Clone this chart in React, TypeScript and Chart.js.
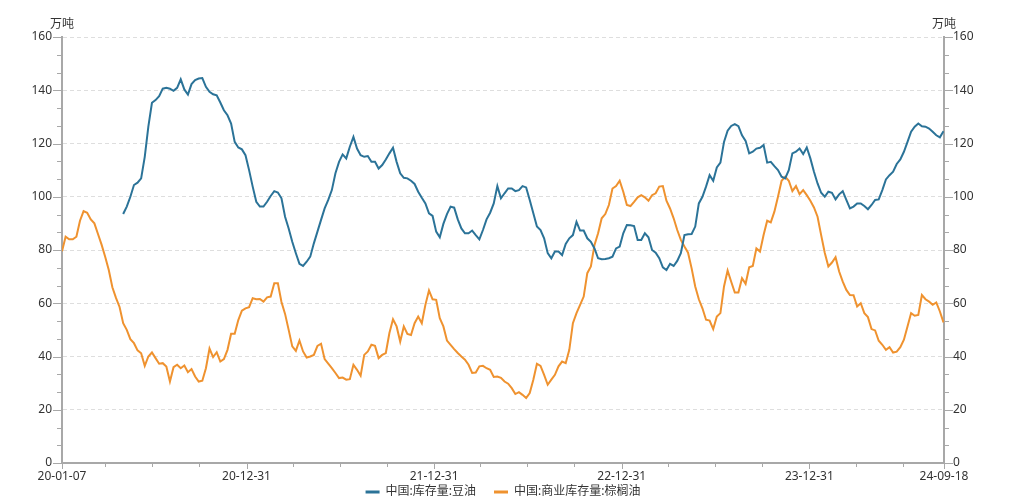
import React, { useEffect, useRef } from "react";
import { Chart, registerables } from "chart.js";

Chart.register(...registerables);

// ---------- data ----------
const axisStart = "2020-01-07";
const axisEnd = "2024-09-18";

// quarterly tick marks on the time axis
const xTickDates = [
  "2020-01-07", "2020-03-31", "2020-06-30", "2020-09-30", "2020-12-31",
  "2021-03-31", "2021-06-30", "2021-09-30", "2021-12-31",
  "2022-03-31", "2022-06-30", "2022-09-30", "2022-12-31",
  "2023-03-31", "2023-06-30", "2023-09-30", "2023-12-31",
  "2024-03-31", "2024-06-30", "2024-09-18",
];
// ticks that carry a label
const xLabelDates = ["2020-01-07", "2020-12-31", "2021-12-31", "2022-12-31", "2023-12-31", "2024-09-18"];

const yTickLabels = [0, 20, 40, 60, 80, 100, 120, 140, 160];
const yMinorDivisions = 3;

const unitLabel = "万吨";
const seriesNames = ["中国:库存量:豆油", "中国:商业库存量:棕榈油"];

// weekly series (one value per week from the start date)
const soyStart = "2020-05-05";
const soyValues = [
  93.5, 96.3, 100, 104.4, 105.3, 106.9, 115, 126.3, 135.3, 136.3, 137.8, 140.6, 140.9, 140.6, 139.8, 140.9,
  144.1, 140.3, 138.4, 142.3, 143.8, 144.4, 144.6, 141.3, 139.4, 138.5, 138.1, 135.4, 132.5, 130.6, 127.5, 120.6,
  118.5, 117.8, 115.6, 110, 103.8, 98.1, 96.3, 96.3, 98.1, 100.3, 102.1, 101.6, 99.4, 92.5, 88.1, 83.1,
  78.8, 74.8, 74, 75.6, 77.5, 82.5, 86.9, 91.3, 95.6, 98.8, 102.5, 108.8, 113.1, 115.9, 114.4, 118.8,
  122.5, 118.1, 115.6, 115, 115.3, 113.1, 113.1, 110.6, 111.9, 114, 116.3, 118.4, 113.1, 108.8, 107.1, 106.9,
  106, 104.8, 101.9, 99.6, 97.5, 93.8, 92.8, 86.9, 84.8, 89.8, 93.5, 96.3, 95.9, 91.5, 88.1, 86.3,
  86.3, 87.3, 85.6, 84, 87.5, 91.5, 94, 97.5, 104, 99.4, 101.3, 103.1, 103.1, 102.1, 102.5, 104,
  103.5, 98.8, 93.8, 88.8, 87.5, 84.4, 78.8, 76.9, 79.4, 79.4, 78.1, 82.3, 84.4, 85.6, 90.6, 87.3,
  87.3, 84.4, 83.1, 80.6, 76.9, 76.5, 76.6, 76.9, 77.5, 80.6, 81.3, 86.3, 89.4, 89.3, 89, 83.8,
  83.8, 86.3, 84.8, 80, 79, 76.9, 73.5, 72.5, 74.8, 74, 75.9, 78.8, 85.6, 85.9, 86, 88.8,
  97.5, 100, 103.8, 108.1, 106, 111, 112.8, 120.6, 124.8, 126.6, 127.3, 126.5, 123.1, 121, 116.3, 116.9,
  118.1, 118.4, 119.4, 112.8, 113.1, 111.5, 110, 107.5, 106.9, 110, 116.3, 116.9, 118.1, 116, 118.5, 114.4,
  109.4, 105, 101.5, 100, 101.9, 101.5, 99, 100.9, 102.1, 98.8, 95.6, 96.3, 97.5, 97.5, 96.5, 95.3,
  96.9, 98.8, 99, 102.5, 106.5, 108.1, 109.4, 112.3, 114, 116.9, 120.6, 124.4, 126.3, 127.5, 126.5, 126.3,
  125.6, 124.4, 123.1, 122.3, 124.6,
];

const palmStart = "2020-01-07";
const palmValues = [
  79.5, 85, 84, 84, 85, 91, 94.6, 94, 91.5, 90, 86, 82, 77.5, 72.5, 66, 62,
  58.6, 52.5, 50, 46.5, 45, 42.3, 41.2, 36.5, 40, 41.5, 39.4, 37.3, 37.5, 36.2, 30.6, 36,
  36.9, 35.6, 36.6, 34.1, 35.3, 32.5, 30.6, 30.9, 35.6, 43, 39.8, 41.6, 38.1, 39, 42.5, 48.5,
  48.5, 53.7, 57.2, 58.1, 58.5, 61.9, 61.5, 61.6, 60.6, 62.2, 62.5, 67.5, 67.5, 60.5, 56, 50,
  43.8, 42.1, 46, 41.9, 39.6, 40, 40.6, 44, 44.8, 39, 37.3, 35.6, 33.8, 31.9, 32.1, 31.3,
  31.5, 36.9, 35, 32.8, 40.6, 41.9, 44.4, 44, 39.4, 40.6, 41.3, 48.8, 54, 51.3, 45.6, 51.3,
  48.5, 48.1, 52.5, 55, 52.5, 59.4, 64.8, 61.5, 61.3, 54.4, 51.3, 46, 44.4, 42.8, 41.3, 40,
  38.8, 36.9, 33.8, 34, 36.3, 36.5, 35.6, 35, 32.3, 32.5, 32, 30.6, 29.8, 28.1, 25.9, 26.6,
  25.6, 24.4, 26.3, 31.3, 37.3, 36.5, 33.1, 29.4, 31.3, 33.1, 36.3, 38.1, 37.5, 42.5, 52.5, 56.3,
  59.4, 62.5, 71.3, 73.8, 81.9, 86.3, 91.9, 93.5, 96.9, 103.1, 104, 106, 101.9, 96.9, 96.5, 98.1,
  99.8, 100.6, 99.8, 98.5, 100.6, 101.3, 103.8, 104, 98.5, 95.6, 91.9, 87.5, 83.8, 81.3, 79, 73.1,
  66.3, 61.5, 58.1, 53.8, 53.5, 50.3, 55, 56.3, 66.3, 72.3, 68.1, 64, 64, 69.4, 67.3, 73.5,
  74, 80.6, 79.4, 85.6, 91, 90.4, 94.4, 100, 106, 107.5, 106, 102.1, 104, 101, 102.5, 100.6,
  98.5, 96, 92.5, 85.6, 79, 73.8, 75.3, 77.3, 71.9, 68.1, 65, 63.1, 63, 58.8, 60, 56.3,
  54.8, 50.3, 49.8, 45.9, 44.4, 42.5, 43.5, 41.5, 41.8, 43.5, 46.3, 51.3, 56.3, 55.3, 55.6, 63.1,
  61.5, 60.6, 59.4, 60.3, 56.9, 52.8,
];

// ---------- styling ----------
const SOY_COLOR = "#2b7398";
const PALM_COLOR = "#ef922f";
const AXIS_COLOR = "#a8a8a8";
const GRID_COLOR = "#dedede";
const TEXT_COLOR = "#333333";
const FONT_FAMILY = "'Noto Sans', 'Noto Sans CJK SC', sans-serif";
const LEGEND_PADDING = 18;
const LEGEND_TEXT_Y = 492;

const DAY = 86400000;
const dayOf = (s: string) => {
  const [y, m, d] = s.split("-").map(Number);
  const [y0, m0, d0] = axisStart.split("-").map(Number);
  return Math.round((Date.UTC(y, m - 1, d) - Date.UTC(y0, m0 - 1, d0)) / DAY);
};
const xLabelDays = new Map(xLabelDates.map((d) => [dayOf(d), d.slice(2)]));
const yTickValues: number[] = [];
for (let i = 0; i <= (yTickLabels.length - 1) * yMinorDivisions; i++) {
  yTickValues.push((i * (yTickLabels[1] - yTickLabels[0])) / yMinorDivisions);
}
const isMajorY = (v: number) => yTickLabels.some((t) => Math.abs(t - v) < 1e-6);

const toPoints = (start: string, values: number[]) => {
  const s = dayOf(start);
  return values.map((v, i) => ({ x: s + 7 * i, y: v }));
};

// places the legend row at the wanted baseline, independent of its layout box
const legendPlacePlugin = {
  id: "legendPlace",
  afterLayout(chart: any) {
    const l = chart.legend;
    if (!l) return;
    l.top = LEGEND_TEXT_Y - LEGEND_PADDING - 6;
    l.bottom = chart.height;
    l.height = l.bottom - l.top;
  },
};

const tickMarksPlugin = {
  id: "tickMarks",
  afterDraw(chart: any) {
    const { ctx } = chart;
    const xs = chart.scales.x;
    const yl = chart.scales.y;
    const yr = chart.scales.y2;
    ctx.save();
    ctx.strokeStyle = AXIS_COLOR;
    ctx.lineWidth = 1;
    ctx.beginPath();
    xs.ticks.forEach((t: any) => {
      const px = Math.round(xs.getPixelForValue(t.value)) + 0.5;
      const len = xLabelDays.has(t.value) ? 6 : 4;
      ctx.moveTo(px, xs.top);
      ctx.lineTo(px, xs.top + len);
    });
    yl.ticks.forEach((t: any) => {
      const py = Math.round(yl.getPixelForValue(t.value)) + 0.5;
      const len = isMajorY(t.value) ? 9 : 5;
      ctx.moveTo(yl.right - len, py);
      ctx.lineTo(yl.right, py);
    });
    yr.ticks.forEach((t: any) => {
      const py = Math.round(yr.getPixelForValue(t.value)) + 0.5;
      const len = isMajorY(t.value) ? 9 : 5;
      ctx.moveTo(yr.left, py);
      ctx.lineTo(yr.left + len, py);
    });
    ctx.stroke();
    // unit labels above both value axes
    ctx.fillStyle = TEXT_COLOR;
    ctx.font = `12px ${FONT_FAMILY}`;
    ctx.textAlign = "center";
    ctx.textBaseline = "middle";
    const uy = chart.chartArea.top - 12;
    ctx.fillText(unitLabel, yl.right, uy);
    ctx.fillText(unitLabel, yr.left, uy);
    ctx.restore();
  },
};

export default function App() {
  const canvasRef = useRef<HTMLCanvasElement | null>(null);

  useEffect(() => {
    document.body.style.margin = "0";
    const canvas = canvasRef.current;
    if (!canvas) return;

    Chart.defaults.font.family = FONT_FAMILY;
    Chart.defaults.font.size = 12;
    Chart.defaults.color = TEXT_COLOR;

    const yAxisCommon = {
      type: "linear" as const,
      min: yTickLabels[0],
      max: yTickLabels[yTickLabels.length - 1],
      afterBuildTicks: (axis: any) => {
        axis.ticks = yTickValues.map((v) => ({ value: v }));
      },
      ticks: {
        autoSkip: false,
        color: TEXT_COLOR,
        font: { size: 12 },
        callback: (v: any) => (isMajorY(Number(v)) ? String(Math.round(Number(v))) : ""),
      },
      border: { display: true, color: AXIS_COLOR, width: 2 },
    };

    const chart = new Chart(canvas, {
      type: "line",
      data: {
        datasets: [
          {
            label: seriesNames[0],
            data: toPoints(soyStart, soyValues),
            borderColor: SOY_COLOR,
            backgroundColor: SOY_COLOR,
            borderWidth: 2,
            pointRadius: 0,
            tension: 0,
            yAxisID: "y",
          },
          {
            label: seriesNames[1],
            data: toPoints(palmStart, palmValues),
            borderColor: PALM_COLOR,
            backgroundColor: PALM_COLOR,
            borderWidth: 2,
            pointRadius: 0,
            tension: 0,
            yAxisID: "y",
          },
        ],
      },
      options: {
        animation: false,
        responsive: false,
        devicePixelRatio: 1,
        layout: { padding: { top: 37, left: 0, right: 0, bottom: 0 } },
        plugins: {
          tooltip: { enabled: false },
          legend: {
            position: "bottom",
            fullSize: false,
            maxHeight: 13,
            labels: {
              boxWidth: 14,
              boxHeight: 3,
              padding: LEGEND_PADDING,
              color: TEXT_COLOR,
              font: { size: 12 },
              generateLabels: (c: any) =>
                Chart.defaults.plugins.legend.labels
                  .generateLabels(c)
                  .map((l: any) => ({ ...l, lineWidth: 0, fillStyle: l.strokeStyle })),
            },
          },
        },
        scales: {
          x: {
            type: "linear",
            min: dayOf(axisStart),
            max: dayOf(axisEnd),
            afterBuildTicks: (axis: any) => {
              axis.ticks = xTickDates.map((d) => ({ value: dayOf(d) }));
            },
            afterFit: (axis: any) => {
              axis.height = 22;
            },
            grid: { display: false, drawTicks: false },
            border: { display: true, color: AXIS_COLOR, width: 2 },
            ticks: {
              autoSkip: false,
              maxRotation: 0,
              padding: 6,
              color: TEXT_COLOR,
              font: { size: 12 },
              callback: (v: any) => xLabelDays.get(Number(v)) ?? "",
            },
          },
          y: {
            ...yAxisCommon,
            position: "left",
            afterFit: (axis: any) => {
              axis.width = 62;
            },
            grid: {
              drawTicks: false,
              lineWidth: 1,
              color: (ctx: any) => (ctx.tick && isMajorY(ctx.tick.value) ? GRID_COLOR : "rgba(0,0,0,0)"),
            },
            border: { display: true, color: AXIS_COLOR, width: 2, dash: [4, 3] },
            ticks: { ...yAxisCommon.ticks, padding: 10 },
          },
          y2: {
            ...yAxisCommon,
            position: "right",
            afterFit: (axis: any) => {
              axis.width = 83;
            },
            grid: { display: false, drawTicks: false, drawOnChartArea: false },
            ticks: { ...yAxisCommon.ticks, padding: 9 },
          },
        },
      },
      plugins: [legendPlacePlugin, tickMarksPlugin],
    } as any);

    return () => chart.destroy();
  }, []);

  return <canvas ref={canvasRef} width={1027} height={498} style={{ display: "block" }} />;
}
